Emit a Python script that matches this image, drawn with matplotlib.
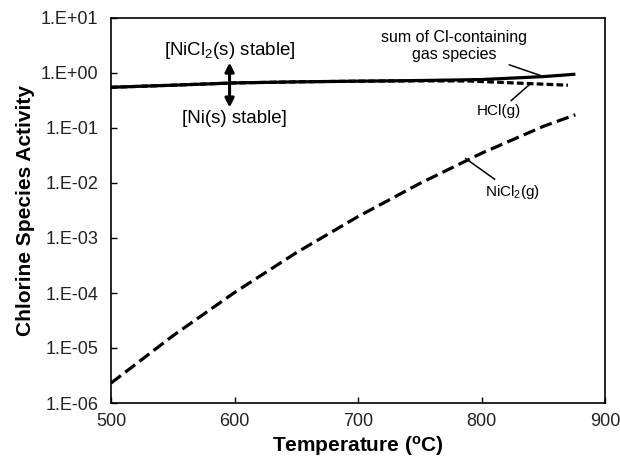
import numpy as np
import matplotlib
matplotlib.use('Agg')
import matplotlib.pyplot as plt
from matplotlib.ticker import FixedLocator, FuncFormatter, NullLocator

plt.rcParams['font.family'] = ['Liberation Sans', 'DejaVu Sans']
plt.rcParams['mathtext.fontset'] = 'custom'
plt.rcParams['mathtext.rm'] = 'Liberation Sans'
plt.rcParams['mathtext.it'] = 'Liberation Sans:italic'
plt.rcParams['mathtext.bf'] = 'Liberation Sans:bold'

# values
temp = [500, 550, 600, 650, 700, 750, 800, 850, 876]
sum_cl = [0.55, 0.60, 0.66, 0.69, 0.71, 0.73, 0.76, 0.86, 0.95]
nicl2_g = [2.3e-6, 1.66e-5, 1.02e-4, 5.4e-4, 2.45e-3, 9.8e-3, 3.47e-2, 1.07e-1, 1.74e-1]
temp_hcl = [500, 550, 600, 650, 700, 750, 790, 840, 870]
hcl_g = [0.55, 0.60, 0.66, 0.69, 0.71, 0.72, 0.715, 0.64, 0.60]

x_ticks = [500, 600, 700, 800, 900]
y_ticks = [1e-6, 1e-5, 1e-4, 1e-3, 1e-2, 1e-1, 1e0, 1e1]

fig = plt.figure(figsize=(6.2, 4.62), dpi=100)
ax = fig.add_axes([111 / 620, 59 / 462, 494 / 620, 385 / 462])

ax.plot(temp, sum_cl, color='k', lw=2.3, solid_capstyle='butt', zorder=3)
ax.plot(temp_hcl, hcl_g, color='k', lw=2.3, dashes=(2.1, 1.0), zorder=2)
ax.plot(temp, nicl2_g, color='k', lw=2.3, dashes=(3.9, 1.7))

ax.set_yscale('log')
ax.set_xlim(500, 900)
ax.set_ylim(1e-6, 1e1)
ax.xaxis.set_major_locator(FixedLocator(x_ticks))
ax.yaxis.set_major_locator(FixedLocator(y_ticks))
ax.yaxis.set_minor_locator(NullLocator())
ax.yaxis.set_major_formatter(FuncFormatter(
    lambda v, p: '1.E{:+03d}'.format(int(round(np.log10(v))))))
ax.tick_params(direction='in', length=4, width=1, labelsize=13, labelcolor='#222222')
ax.tick_params(axis='y', pad=9)
ax.tick_params(axis='x', pad=7)
for s in ax.spines.values():
    s.set_linewidth(1.2)

ax.set_xlabel(r'Temperature ($^{\mathbf{o}}$C)', fontsize=15, fontweight='bold', labelpad=3)
ax.set_ylabel('Chlorine Species Activity', fontsize=15, fontweight='bold', labelpad=4)

# stability annotations
ax.text(596, 2.6, r'[NiCl$_2$(s) stable]', fontsize=13.5, ha='center', va='center')
ax.text(600, 0.15, '[Ni(s) stable]', fontsize=13.5, ha='center', va='center')
ax.annotate('', xy=(596, 1.55), xytext=(596, 0.235),
            arrowprops=dict(arrowstyle='<|-|>', color='k', lw=2.2,
                            mutation_scale=13, shrinkA=0, shrinkB=0))

ax.annotate('sum of Cl-containing\ngas species', xy=(849, 0.88), xytext=(778, 3.1),
            fontsize=11.5, ha='center', va='center', linespacing=1.1,
            arrowprops=dict(arrowstyle='-', color='k', lw=1.1, shrinkA=1, shrinkB=0))
ax.annotate('HCl(g)', xy=(839, 0.62), xytext=(814, 0.2),
            fontsize=11, ha='center', va='center',
            arrowprops=dict(arrowstyle='-', color='k', lw=1.1, shrinkA=1, shrinkB=0))
ax.annotate(r'NiCl$_2$(g)', xy=(787, 0.028), xytext=(825, 0.0069),
            fontsize=11, ha='center', va='center',
            arrowprops=dict(arrowstyle='-', color='k', lw=1.1, shrinkA=1, shrinkB=0))

fig.savefig('out.png', dpi=100)
